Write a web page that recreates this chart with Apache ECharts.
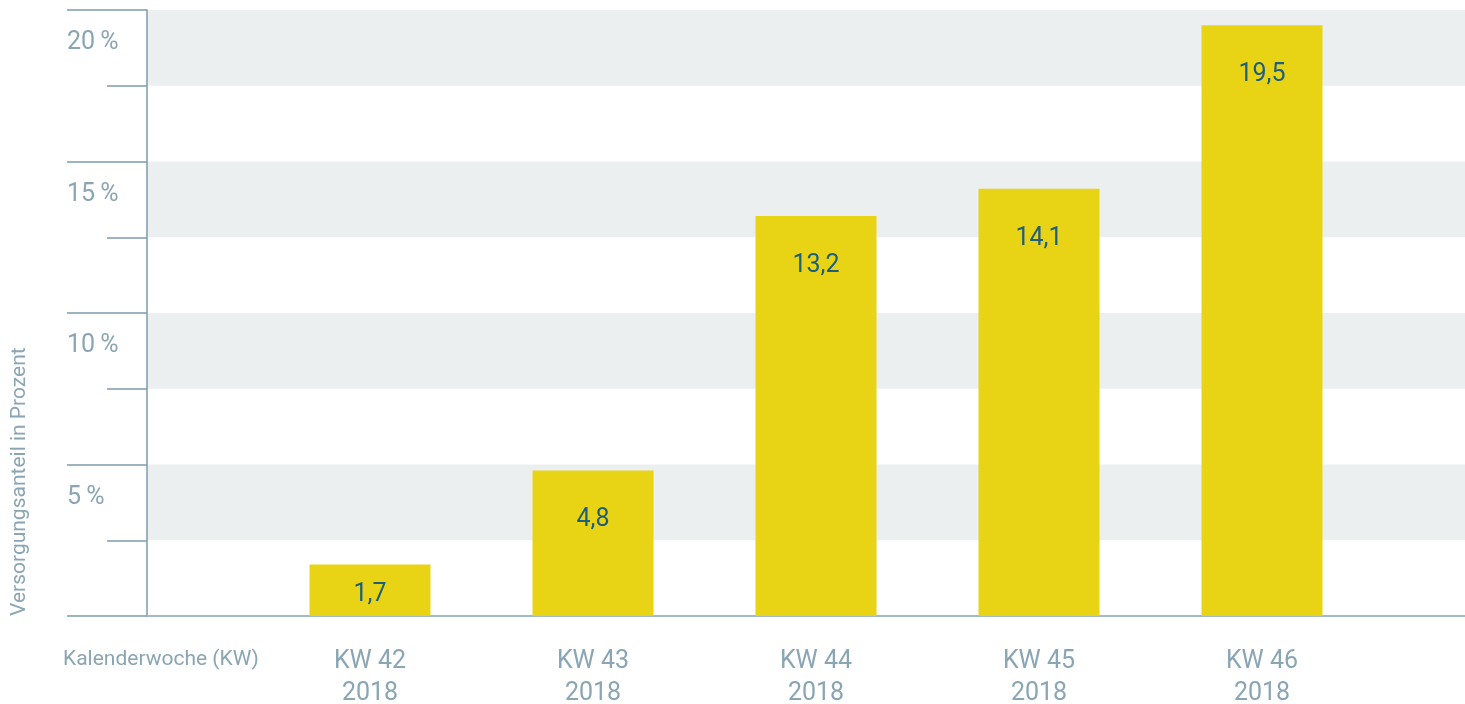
<!DOCTYPE html>
<html>
<head>
<meta charset="utf-8">
<script src="https://cdn.jsdelivr.net/npm/echarts@6/dist/echarts.min.js"></script>
<style>
  html, body { margin: 0; padding: 0; background: #ffffff; }
  #chart { width: 1465px; height: 704px; }
</style>
</head>
<body>
<div id="chart"></div>
<script>
// ---- data ----
const weeks = ['KW 42', 'KW 43', 'KW 44', 'KW 45', 'KW 46'];
const years = ['2018', '2018', '2018', '2018', '2018'];
const shares = [1.7, 4.8, 13.2, 14.1, 19.5];
const yTickValues = [5, 10, 15, 20];
const xAxisTitle = 'Kalenderwoche (KW)';
const yAxisTitle = 'Versorgungsanteil in Prozent';

// ---- styling ----
const FONT = 'Roboto, "Noto Sans", sans-serif';
const TEXT = '#8aa5b3';
const AXIS = '#7c9cab';
const BASE = '#a3bac5';
const BAR = '#e8d415';
const LABEL = '#1d5e7d';
const BAND = '#ebeff0';

// padded category axis: an empty slot at the y axis and one at the far right
const cats = [''].concat(weeks.map((w, i) => w + '\n' + years[i])).concat(['']);
const barData = [null].concat(shares.map(v => (
  v < 3 ? { value: v, label: { position: 'inside', offset: [0, 5] } } : v
))).concat([null]);

const chart = echarts.init(document.getElementById('chart'));
chart.setOption({
  animation: false,
  backgroundColor: '#ffffff',
  grid: { left: 147, top: 10, height: 606, width: 1338, containLabel: false, outerBoundsMode: 'none' },
  xAxis: {
    type: 'category',
    data: cats,
    boundaryGap: false,
    axisLine: { show: true, lineStyle: { color: BASE, width: 2 } },
    axisTick: { show: false },
    splitLine: { show: false },
    axisLabel: {
      interval: 0,
      margin: 30,
      color: TEXT,
      fontFamily: FONT,
      fontSize: 25,
      lineHeight: 32
    },
    name: xAxisTitle,
    nameLocation: 'start',
    nameGap: 84,
    nameTextStyle: {
      align: 'left',
      verticalAlign: 'top',
      lineHeight: 87,
      color: TEXT,
      fontFamily: FONT,
      fontSize: 21
    }
  },
  yAxis: [
    {
      type: 'value',
      min: 0,
      max: 20,
      interval: 5,
      position: 'left',
      axisLine: { show: true, lineStyle: { color: AXIS, width: 1.5 } },
      axisTick: { show: true, length: 80, lineStyle: { color: AXIS, width: 1.5 } },
      minorTick: { show: true, splitNumber: 2, length: 40, lineStyle: { color: AXIS, width: 1.5 } },
      splitLine: { show: false },
      splitArea: { show: false },
      axisLabel: {
        margin: 80,
        align: 'left',
        verticalAlign: 'top',
        lineHeight: 66,
        color: TEXT,
        fontFamily: FONT,
        fontSize: 25,
        formatter: v => (yTickValues.indexOf(v) >= 0 ? v + '\u2009%' : '')
      }
    },
    {
      type: 'value',
      min: 0,
      max: 20,
      interval: 2.5,
      position: 'left',
      axisLine: { show: false },
      axisTick: { show: false },
      axisLabel: { show: false },
      splitLine: { show: false },
      splitArea: { show: true, areaStyle: { color: ['rgba(255,255,255,0)', BAND] } }
    }
  ],
  graphic: [
    {
      type: 'text',
      x: 20,
      y: 616,
      rotation: Math.PI / 2,
      style: {
        text: yAxisTitle,
        fill: TEXT,
        font: '21px ' + FONT,
        align: 'left',
        verticalAlign: 'middle'
      }
    }
  ],
  series: [
    {
      type: 'bar',
      yAxisIndex: 0,
      data: barData,
      barWidth: 121,
      itemStyle: { color: BAR },
      label: {
        show: true,
        position: 'insideTop',
        distance: 37,
        color: LABEL,
        fontFamily: FONT,
        fontSize: 25,
        formatter: p => String(p.value).replace('.', ',')
      }
    }
  ]
});
</script>
</body>
</html>
